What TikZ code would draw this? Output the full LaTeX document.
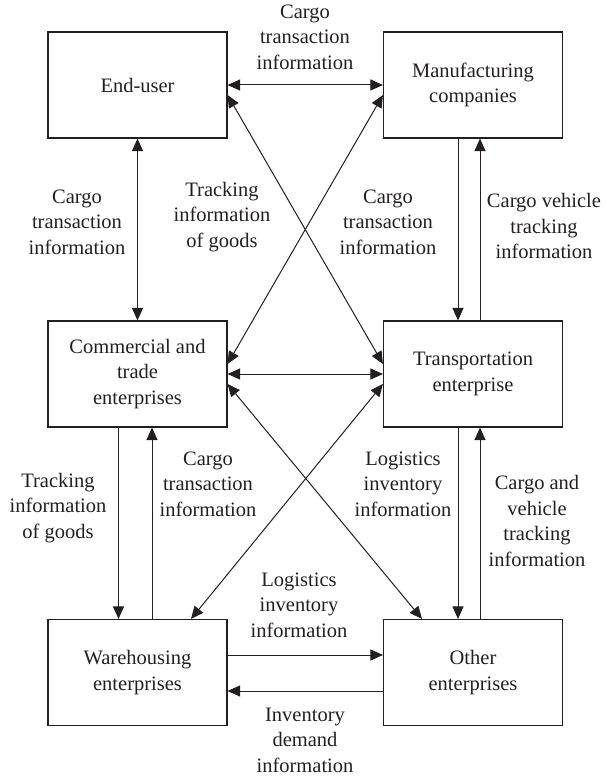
\documentclass[tikz,border=0pt]{standalone}
\usepackage{fontspec}
\setmainfont{Liberation Serif}
\usetikzlibrary{arrows.meta}
\definecolor{ink}{HTML}{231F20}
\begin{document}
\begin{tikzpicture}[x=1pt,y=-1pt,
  box/.style={draw=ink,line width=1.1pt,minimum width=179pt,minimum height=106pt,inner sep=2pt,align=center,font=\fontsize{20.5}{25.5}\selectfont,text=ink},
  lbl/.style={align=center,font=\fontsize{20.5}{25.5}\selectfont,text=ink,inner sep=0pt},
  con/.style={draw=ink,line width=1pt},
  >={Triangle[length=12.5pt,width=11pt]}]
\useasboundingbox (0,0) rectangle (605,778);
% boxes
\node[box] (eu) at (137.5,85) {End-user};
\node[box] (mc) at (473,85) {Manufacturing\\companies};
\node[box] (ct) at (137.5,374) {Commercial and\\trade\\enterprises};
\node[box] (te) at (473,374) {Transportation\\enterprise};
\node[box] (we) at (137.5,672.5) {Warehousing\\enterprises};
\node[box] (oe) at (473,672.5) {Other\\enterprises};
% horizontal links
\draw[con,<->] (eu) -- (mc);
\draw[con,<->] (ct) -- (te);
\draw[con,->] (we.east |- 0,655) -- (oe.west |- 0,655);
\draw[con,->] (oe.west |- 0,691) -- (we.east |- 0,691);
% vertical links
\draw[con,<->] (eu.south -| 137.5,0) -- (ct.north -| 137.5,0);
\draw[con,->] (mc.south -| 458,0) -- (te.north -| 458,0);
\draw[con,->] (te.north -| 480,0) -- (mc.south -| 480,0);
\draw[con,->] (ct.south -| 118.5,0) -- (we.north -| 118.5,0);
\draw[con,->] (we.north -| 152,0) -- (ct.south -| 152,0);
\draw[con,->] (te.south -| 458,0) -- (oe.north -| 458,0);
\draw[con,->] (oe.north -| 480,0) -- (te.south -| 480,0);
% diagonal links
\draw[con,<->] (eu.east |- 0,95) -- (te.west |- 0,364);
\draw[con,<->] (mc.west |- 0,95) -- (ct.east |- 0,364);
\draw[con,<->] (ct.east |- 0,384) -- (oe.north -| 422,0);
\draw[con,<->] (te.west |- 0,384) -- (we.north -| 191,0);
% labels
\node[lbl] (l1) at (305,37) {Cargo\\transaction\\information};
\node[lbl] (l2) at (77,222) {Cargo\\transaction\\information};
\node[lbl] (l3) at (222,217) {Tracking\\information\\of goods};
\node[lbl] (l4) at (388,222) {Cargo\\transaction\\information};
\node[lbl] (l5) at (544,226) {Cargo vehicle\\tracking\\information};
\node[lbl] (l6) at (208,484) {Cargo\\transaction\\information};
\node[lbl] (l7) at (403,484) {Logistics\\inventory\\information};
\node[lbl] (l8) at (58,508) {Tracking\\information\\of goods};
\node[lbl] (l9) at (537,521) {Cargo and\\vehicle\\tracking\\information};
\node[lbl] (l10) at (299,605) {Logistics\\inventory\\information};
\node[lbl] (l11) at (305,740) {Inventory\\demand\\information};
\end{tikzpicture}
\end{document}
